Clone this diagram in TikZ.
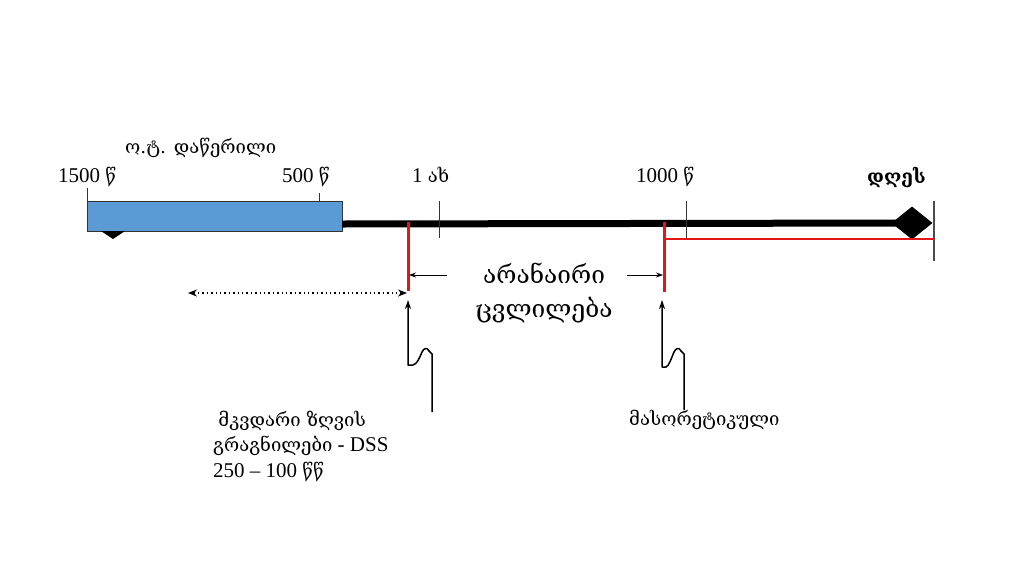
\documentclass[tikz,border=0pt]{standalone}
\usepackage{fontspec}
\setmainfont{Liberation Serif}
\newfontfamily\geo{DejaVu Serif}
\usetikzlibrary{arrows.meta,shapes.geometric}
\newcommand\geot[1]{{\geo\fontsize{18.5}{26}\selectfont #1}}
\definecolor{boxblue}{RGB}{91,155,213}
\definecolor{brightred}{RGB}{228,22,24}
\begin{document}
\begin{tikzpicture}[x=1pt,y=-1pt,
  lbl/.style={inner sep=0pt,font=\fontsize{21}{26}\selectfont},
  tick/.style={line width=0.8pt,black!80},
  redbar/.style={line width=3pt,brightred},
  conn/.style={line width=1.5pt,-{Stealth[length=9pt,width=6pt]}},
  thin arrow/.style={line width=0.8pt,-{Stealth[length=7pt,width=5pt]}}]
\fill[white] (0,0) rectangle (1024,576);
\useasboundingbox (0,0) rectangle (1024,576);
% blue period box
\node[draw=black!80,line width=0.8pt,fill=boxblue,minimum width=255pt,minimum height=30pt,inner sep=0pt,anchor=north west] (box) at (87,201) {};
% triangle under box
\fill (101,231) -- (125,231) -- (113,239) -- cycle;
% main thick line
\node[diamond,fill=black,minimum width=41pt,minimum height=33pt,inner sep=0pt] (dia) at (912,223) {};
\coordinate (lineL) at (342,224);
\draw[line width=7pt] (lineL) -- (dia.center);
% ticks
\coordinate (t1500a) at (87,188); \coordinate (t1500b) at (87,201);
\draw[tick] (t1500a) -- (t1500b);
\coordinate (t500a) at (319,193); \coordinate (t500b) at (319,201);
\draw[tick] (t500a) -- (t500b);
\coordinate (t1a) at (439,201); \coordinate (t1b) at (439,238);
\draw[tick] (t1a) -- (t1b);
\coordinate (t1000a) at (686,201); \coordinate (t1000b) at (686,239);
\draw[tick] (t1000a) -- (t1000b);
\coordinate (tenda) at (934,201); \coordinate (tendb) at (934,261);
\draw[line width=2pt,black!70] (tenda) -- (tendb);
% red thin line
\coordinate (rl1) at (664,239); \coordinate (rl2) at (934,239);
\draw[line width=1.3pt,brightred] (rl1) -- (rl2);
% red bars
\coordinate (r1a) at (408,222); \coordinate (r1b) at (408,291);
\coordinate (r2a) at (664,222); \coordinate (r2b) at (664,292);
\draw[redbar] (r1a) -- (r1b);
\draw[redbar] (r2a) -- (r2b);
% labels on top
\node[lbl,anchor=base west] (lwritten) at (125,153) {\geot{ო.ტ. დაწერილი}};
\node[lbl,anchor=base west] (l1500) at (58,182) {1500 \geot{წ}};
\node[lbl,anchor=base west] (l500) at (282,182) {500 \geot{წ}};
\node[lbl,anchor=base west] (l1) at (412,182) {1 \geot{ახ}};
\node[lbl,anchor=base west] (l1000) at (636,182) {1000 \geot{წ}};
\node[lbl,anchor=base west] (ltoday) at (867,183) {\geo\bfseries\fontsize{19}{24}\selectfont დღეს};
% no change label
\node[inner sep=0pt,anchor=base,font=\fontsize{24.5}{34}\selectfont\geo] (nochange) at (544,283) {არანაირი};
\node[inner sep=0pt,anchor=base,font=\fontsize{24.5}{34}\selectfont\geo] (nochange2) at (544,317) {ცვლილება};
\coordinate (nl) at (447,275); \coordinate (nr) at (627,275);
\coordinate (r1m) at (409,275); \coordinate (r2m) at (663,275);
\draw[thin arrow] (nl) -- (r1m);
\draw[thin arrow] (nr) -- (r2m);
% dotted double arrow
\coordinate (dl) at (188,293); \coordinate (dr) at (407,293);
\draw[line width=1.4pt,dash pattern=on 1.4pt off 3pt,{Stealth[length=9pt,width=7pt]}-{Stealth[length=9pt,width=7pt]}] (dl) -- (dr);
% bottom labels
\node[lbl,anchor=base west] (dss1) at (213,426) {\ \geot{მკვდარი ზღვის}};
\node[lbl,anchor=base west] (dss2) at (213,451) {\geot{გრაგნილები} - DSS};
\node[lbl,anchor=base west] (dss3) at (213,477) {250 -- 100 \geot{წწ}};
\node[lbl,anchor=base west] (mas) at (629,425) {\geot{მასორეტიკული}};
% jagged arrows
\coordinate (j1s) at (432,412); \coordinate (j1e) at (408,300);
\draw[conn,line join=round] (j1s) -- (432,354) -- (429,351)
  .. controls (427,347) and (424,348) .. (422,352)
  .. controls (419,359) and (417,364) .. (413,365) -- (408,365) -- (j1e);
\coordinate (j2s) at (684,410); \coordinate (j2e) at (662,300);
\draw[conn,line join=round] (j2s) -- (684,354) -- (681,351)
  .. controls (679,347) and (676,348) .. (674,352)
  .. controls (671,359) and (669,366) .. (666,367) -- (662,367) -- (j2e);
\end{tikzpicture}
\end{document}
